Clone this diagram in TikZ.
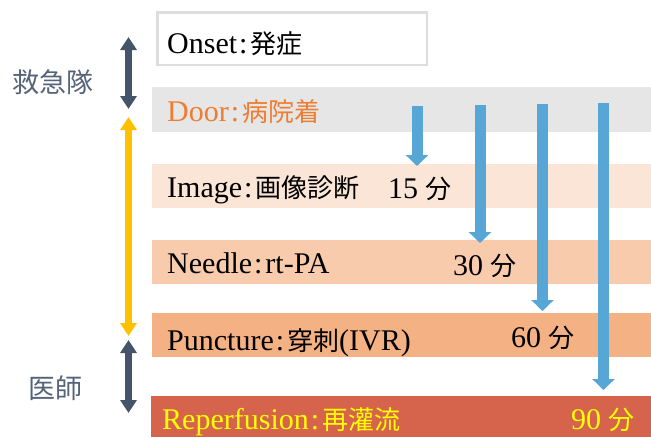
\documentclass[tikz,border=0pt]{standalone}
\usepackage{fontspec}
\setmainfont{Liberation Serif}
\newfontfamily\jp{Noto Sans CJK JP}
\usetikzlibrary{arrows.meta}
\definecolor{slate}{HTML}{44546A}
\definecolor{slatetxt}{HTML}{56647A}
\definecolor{gold}{HTML}{FFC000}
\definecolor{bblue}{RGB}{86,166,214}
\definecolor{doorc}{HTML}{E6E6E6}
\definecolor{imgc}{HTML}{FBE5D6}
\definecolor{needc}{HTML}{F8CBAD}
\definecolor{puncc}{HTML}{F4B183}
\definecolor{repc}{RGB}{214,100,76}
\definecolor{orangetxt}{HTML}{ED7D31}
\definecolor{yellowtxt}{HTML}{FFFF00}
\definecolor{boxline}{HTML}{DDDDDD}
\newcommand\J[1]{{\jp\fontsize{26}{28}\selectfont #1}}
\newcommand\cl{\hspace{2pt}:\hspace{3pt}}
\begin{document}
\begin{tikzpicture}[x=1pt,y=-1pt,
  lbl/.style={anchor=base west, inner sep=0pt, font=\fontsize{30}{32}\selectfont},
  side/.style={inner sep=0pt, text=slatetxt, font=\jp\fontsize{27}{29}\selectfont},
  darr/.style={line width=7pt, {Triangle[width=16pt,length=13pt]}-{Triangle[width=16pt,length=13pt]}},
  barr/.style={draw=bblue, line width=11pt, -{Triangle[width=22pt,length=11pt]}}]
\useasboundingbox (0,0) rectangle (651,437);
% bands
\fill[white] (0,0) rectangle (651,437);
\draw[boxline, line width=2.5pt, fill=white] (157.25,12.25) rectangle (426.75,64.75);
\fill[doorc] (152,87) rectangle (651,132);
\fill[imgc] (152,164) rectangle (651,208);
\fill[needc] (152,240) rectangle (651,284);
\fill[puncc] (152,313) rectangle (651,357);
\fill[repc] (151,396) rectangle (651,437);
% band texts
\node[lbl] (onset) at (167,53) {Onset\cl\J{発症}};
\node[lbl, text=orangetxt] (door) at (167,121) {Door\cl\J{病院着}};
\node[lbl] (image) at (167,197) {Image\cl\J{画像診断}};
\node[lbl] (needle) at (167,273) {Needle\cl rt-PA};
\node[lbl] (punct) at (167,350) {Puncture\cl\J{穿刺}(IVR)};
\node[lbl, text=yellowtxt] (reperf) at (162,429) {Reperfusion\cl\J{再灌流}};
% minutes
\node[lbl] (m15) at (388,198) {15 \J{分}};
\node[lbl] (m30) at (453,275) {30 \J{分}};
\node[lbl] (m60) at (511,347) {60 \J{分}};
\node[lbl, text=yellowtxt] (m90) at (571,429) {90 \J{分}};
% side labels
\node[side] (kyu) at (53,82) {救急隊};
\node[side] (ishi) at (55,388) {医師};
% left arrows
\coordinate (a1t) at (128.5,37);
\coordinate (a1b) at (128.5,109);
\coordinate (a2t) at (128.5,117);
\coordinate (a2b) at (128.5,336);
\coordinate (a3t) at (128.5,340);
\coordinate (a3b) at (128.5,413);
\draw[darr, slate] (a1t) -- (a1b);
\draw[darr, gold] (a2t) -- (a2b);
\draw[darr, slate] (a3t) -- (a3b);
% blue arrows
\coordinate (b1t) at (417,106);
\coordinate (b1b) at (417,166);
\coordinate (b2t) at (480,105);
\coordinate (b2b) at (480,243);
\coordinate (b3t) at (542.5,104);
\coordinate (b3b) at (542.5,311);
\coordinate (b4t) at (603.5,103);
\coordinate (b4b) at (603.5,390);
\draw[barr] (b1t) -- (b1b);
\draw[barr] (b2t) -- (b2b);
\draw[barr] (b3t) -- (b3b);
\draw[barr] (b4t) -- (b4b);
\end{tikzpicture}
\end{document}
